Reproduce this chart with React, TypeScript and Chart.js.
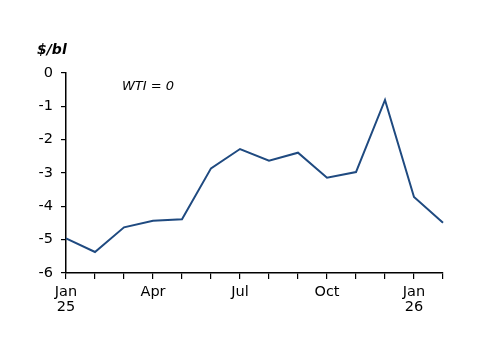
import React, { useEffect, useRef } from "react";
import { Chart, registerables } from "chart.js";

Chart.register(...registerables);

const months = ["Jan 25", "Feb 25", "Mar 25", "Apr 25", "May 25", "Jun 25", "Jul 25", "Aug 25", "Sep 25", "Oct 25", "Nov 25", "Dec 25", "Jan 26", "Feb 26"];
const tickLabels: (string | string[])[] = [["Jan", "25"], "", "", "Apr", "", "", "Jul", "", "", "Oct", "", "", ["Jan", "26"], ""];
const spread = [-4.96, -5.37, -4.63, -4.43, -4.39, -2.86, -2.28, -2.63, -2.39, -3.14, -2.97, -0.81, -3.72, -4.49];
const unitLabel = "$/bl";
const noteLabel = "WTI = 0";

const FONT = "'DejaVu Sans', Verdana, sans-serif";

export default function App() {
  const ref = useRef<HTMLCanvasElement>(null);
  useEffect(() => {
    if (!ref.current) return;
    const textPlugin = {
      id: "texts",
      afterDraw(chart: any) {
        const ctx = chart.ctx;
        const area = chart.chartArea;
        ctx.save();
        ctx.fillStyle = "#000";
        ctx.textBaseline = "middle";
        ctx.textAlign = "left";
        ctx.font = `italic bold 14px ${FONT}`;
        ctx.fillText(unitLabel, 37, 50);
        ctx.font = `italic 13px ${FONT}`;
        ctx.fillText(noteLabel, area.left + 56, 87);
        ctx.restore();
      },
    };
    const chart = new Chart(ref.current, {
      type: "line",
      data: {
        labels: months,
        datasets: [
          {
            data: spread,
            borderColor: "#1F4A80",
            borderWidth: 2,
            pointRadius: 0,
            tension: 0,
            fill: false,
          },
        ],
      },
      options: {
        animation: false,
        responsive: false,
        devicePixelRatio: 1,
        layout: { padding: { left: 0, right: 57, top: 73, bottom: 30 } },
        plugins: { legend: { display: false }, tooltip: { enabled: false } },
        scales: {
          x: {
            offset: false,
            grid: { display: true, drawOnChartArea: false, drawTicks: true, tickLength: 6, color: "#000", lineWidth: 1.2 },
            border: { display: true, color: "#000", width: 1.5 },
            ticks: {
              autoSkip: false,
              maxRotation: 0,
              padding: 6,
              color: "#000",
              font: { family: FONT, size: 14.5, lineHeight: 1.0 },
              callback: (_v: any, i: number) => tickLabels[i],
            },
            afterFit: (s: any) => { s.height = 50; },
          },
          y: {
            min: -6,
            max: 0,
            grid: { display: true, drawOnChartArea: false, drawTicks: true, tickLength: 5, color: "#000", lineWidth: 1.2 },
            border: { display: true, color: "#000", width: 1.5 },
            ticks: {
              stepSize: 1,
              padding: 8,
              color: "#000",
              font: { family: FONT, size: 14.5 },
            },
            afterFit: (s: any) => { s.width = 66; },
          },
        },
      },
      plugins: [textPlugin],
    });
    return () => chart.destroy();
  }, []);
  return (
    <canvas
      ref={ref}
      width={500}
      height={353}
      style={{ position: "fixed", left: 0, top: 0, width: 500, height: 353, background: "#fff" }}
    />
  );
}
